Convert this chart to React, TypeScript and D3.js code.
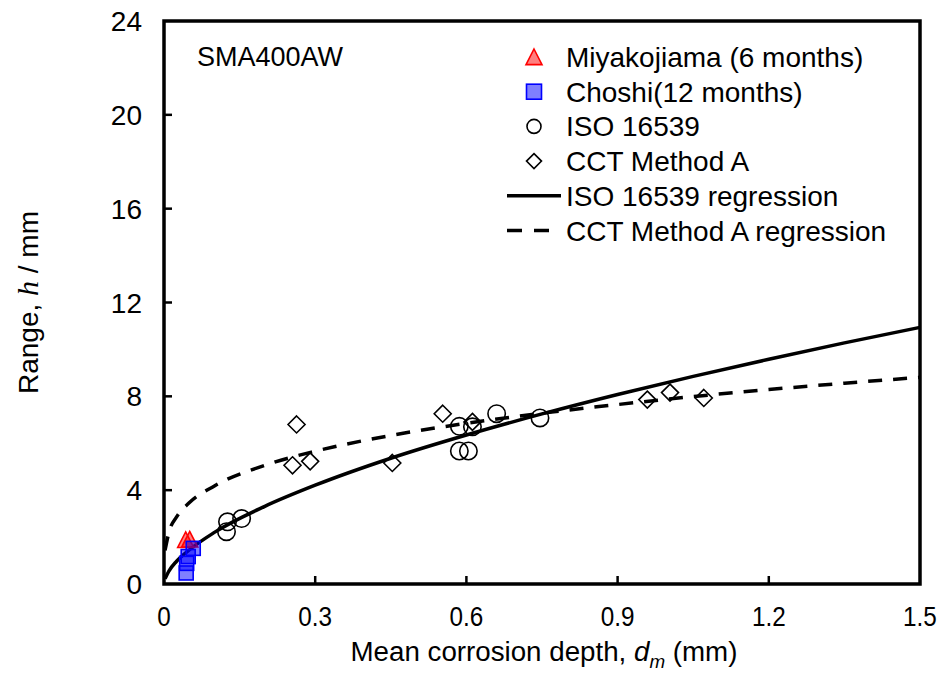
import React, { useEffect, useRef } from 'react';
import * as d3 from 'd3';

// scatter data: [mean depth (mm), range h (mm)]
const miyakojimaPts = [[0.043, 1.88], [0.051, 1.9]];
const choshiPts = [[0.058, 1.52], [0.048, 1.17], [0.045, 0.88], [0.044, 0.47]];
const isoPts = [
  [0.126, 2.65], [0.154, 2.79], [0.124, 2.23],
  [0.586, 6.72], [0.612, 6.7], [0.66, 7.26], [0.746, 7.08],
  [0.586, 5.67], [0.604, 5.67]
];
const cctPts = [
  [0.263, 6.8], [0.255, 5.06], [0.29, 5.23], [0.453, 5.16],
  [0.553, 7.26], [0.612, 6.91], [0.959, 7.86], [1.004, 8.16], [1.071, 7.93]
];

// regression curves, read at these depths
const curveX = [0.002, 0.01, 0.025, 0.05, 0.1, 0.2, 0.3, 0.45, 0.6, 0.75, 0.9, 1.05, 1.2, 1.35, 1.5];
const isoRegY = [0.22, 0.56, 0.97, 1.45, 2.2, 3.31, 4.21, 5.36, 6.35, 7.25, 8.08, 8.85, 9.58, 10.28, 10.94];
const cctRegY = [1.43, 2.22, 2.86, 3.46, 4.18, 5.06, 5.66, 6.33, 6.85, 7.28, 7.65, 7.99, 8.29, 8.56, 8.81];

const xTicks = [0, 0.3, 0.6, 0.9, 1.2, 1.5];
const yTicks = [0, 4, 8, 12, 16, 20, 24];

const legendItems = [
  { key: 'tri', label: 'Miyakojiama (6 months)' },
  { key: 'sq', label: 'Choshi(12 months)' },
  { key: 'circ', label: 'ISO 16539' },
  { key: 'dia', label: 'CCT Method A' },
  { key: 'solid', label: 'ISO 16539 regression' },
  { key: 'dash', label: 'CCT Method A regression' }
];

const FONT = '"Liberation Sans", Arial, sans-serif';
const FS = 28;

const App = () => {
  const svgRef = useRef<SVGSVGElement>(null);

  useEffect(() => {
    document.body.style.margin = '0';
    const width = 946;
    const height = 677;
    const m = { left: 164, right: 26, top: 21, bottom: 93 };

    const x = d3.scaleLinear().domain([0, 1.5]).range([m.left, width - m.right]);
    const y = d3.scaleLinear().domain([0, 24]).range([height - m.bottom, m.top]);

    const svg = d3.select(svgRef.current)
      .attr('width', width)
      .attr('height', height)
      .style('font-family', FONT);
    svg.selectAll('*').remove();

    const plot = svg.append('g');

    // regression lines
    const line = d3.line<number>()
      .x((d, i) => x(curveX[i]))
      .y(d => y(d))
      .curve(d3.curveMonotoneX);

    plot.append('path')
      .attr('d', line(isoRegY))
      .attr('fill', 'none')
      .attr('stroke', '#000')
      .attr('stroke-width', 3.5);

    plot.append('path')
      .attr('d', line(cctRegY))
      .attr('fill', 'none')
      .attr('stroke', '#000')
      .attr('stroke-width', 3.5)
      .attr('stroke-dasharray', '14,11');

    // markers
    const drawCircle = (g, cx, cy, r) => g.append('circle')
      .attr('cx', cx).attr('cy', cy).attr('r', r)
      .attr('fill', 'none').attr('stroke', '#000').attr('stroke-width', 1.6);
    const drawDiamond = (g, cx, cy, s) => g.append('path')
      .attr('d', `M${cx},${cy - s}L${cx + s},${cy}L${cx},${cy + s}L${cx - s},${cy}Z`)
      .attr('fill', 'none').attr('stroke', '#000').attr('stroke-width', 1.6);
    const drawTri = (g, cx, cy, s) => g.append('path')
      .attr('d', `M${cx},${cy - s}L${cx + s},${cy + s * 0.95}L${cx - s},${cy + s * 0.95}Z`)
      .attr('fill', 'rgba(255,0,0,0.5)').attr('stroke', '#ff0000').attr('stroke-width', 1.6);
    const drawSq = (g, cx, cy, s) => g.append('rect')
      .attr('x', cx - s).attr('y', cy - s).attr('width', 2 * s).attr('height', 2 * s)
      .attr('fill', 'rgba(0,0,255,0.5)').attr('stroke', '#0000ff').attr('stroke-width', 1.6);

    isoPts.forEach(([a, b]) => drawCircle(plot, x(a), y(b), 8.7));
    cctPts.forEach(([a, b]) => drawDiamond(plot, x(a), y(b), 8.5));
    miyakojimaPts.forEach(([a, b]) => drawTri(plot, x(a), y(b), 8));
    choshiPts.forEach(([a, b]) => drawSq(plot, x(a), y(b), 7));

    // frame
    svg.append('rect')
      .attr('x', m.left).attr('y', m.top)
      .attr('width', width - m.left - m.right)
      .attr('height', height - m.top - m.bottom)
      .attr('fill', 'none').attr('stroke', '#000').attr('stroke-width', 3.5);

    // ticks (inside)
    const tickG = svg.append('g').attr('stroke', '#000').attr('stroke-width', 2.5);
    xTicks.slice(1, -1).forEach(t => {
      tickG.append('line')
        .attr('x1', x(t)).attr('x2', x(t))
        .attr('y1', y(0)).attr('y2', y(0) - 8);
    });
    yTicks.slice(1, -1).forEach(t => {
      tickG.append('line')
        .attr('x1', x(0)).attr('x2', x(0) + 8)
        .attr('y1', y(t)).attr('y2', y(t));
    });

    // tick labels
    svg.append('g')
      .selectAll('text')
      .data(xTicks)
      .join('text')
      .attr('x', d => x(d))
      .attr('y', y(0) + 42)
      .attr('text-anchor', 'middle')
      .attr('font-size', 27)
      .attr('transform', d => `translate(${x(d)},0) scale(0.9,1) translate(${-x(d)},0)`)
      .text(d => d === 0 ? '0' : d3.format('.1f')(d));

    svg.append('g')
      .selectAll('text')
      .data(yTicks)
      .join('text')
      .attr('x', x(0) - 22)
      .attr('y', d => y(d) + 10)
      .attr('text-anchor', 'end')
      .attr('font-size', FS)
      .text(d => d);

    // axis titles
    const cxT = (x(0) + x(1.5)) / 2;
    const xt = svg.append('text')
      .attr('x', cxT + 2)
      .attr('y', 661)
      .attr('text-anchor', 'middle')
      .attr('font-size', 28)
      .attr('transform', `translate(${cxT},0) scale(0.99,1) translate(${-cxT},0)`);
    xt.append('tspan').text('Mean corrosion depth, ');
    xt.append('tspan').attr('font-style', 'italic').text('d');
    xt.append('tspan').attr('font-style', 'italic').attr('font-size', 19).attr('dy', 7).text('m');
    xt.append('tspan').attr('dy', -7).text(' (mm)');

    const yt = svg.append('text')
      .attr('transform', `translate(38,${(y(0) + y(24)) / 2}) rotate(-90)`)
      .attr('text-anchor', 'middle')
      .attr('font-size', FS);
    yt.append('tspan').text('Range, ');
    yt.append('tspan')
      .attr('font-family', '"Liberation Serif", "Times New Roman", serif')
      .attr('font-style', 'italic')
      .attr('font-size', 30)
      .text('h');
    yt.append('tspan').text(' / mm');

    // annotation
    svg.append('text')
      .attr('x', 197).attr('y', 66)
      .attr('font-size', 27)
      .text('SMA400AW');

    // legend
    const lg = svg.append('g');
    const rowY = i => 57 + i * 34.7;
    legendItems.forEach((item, i) => {
      const cy = rowY(i);
      const cx = 534;
      if (item.key === 'tri') drawTri(lg, cx, cy, 8);
      if (item.key === 'sq') drawSq(lg, cx, cy, 7.5);
      if (item.key === 'circ') drawCircle(lg, cx, cy, 7);
      if (item.key === 'dia') drawDiamond(lg, cx, cy, 7.5);
      if (item.key === 'solid' || item.key === 'dash') {
        lg.append('line')
          .attr('x1', 507).attr('x2', 561)
          .attr('y1', cy).attr('y2', cy)
          .attr('stroke', '#000').attr('stroke-width', 3.5)
          .attr('stroke-dasharray', item.key === 'dash' ? '15,12' : null);
      }
      lg.append('text')
        .attr('x', 566)
        .attr('y', cy + 10)
        .attr('font-size', FS)
        .text(item.label);
    });
  }, []);

  return (
    <div>
      <svg ref={svgRef}></svg>
    </div>
  );
};

export default App;
